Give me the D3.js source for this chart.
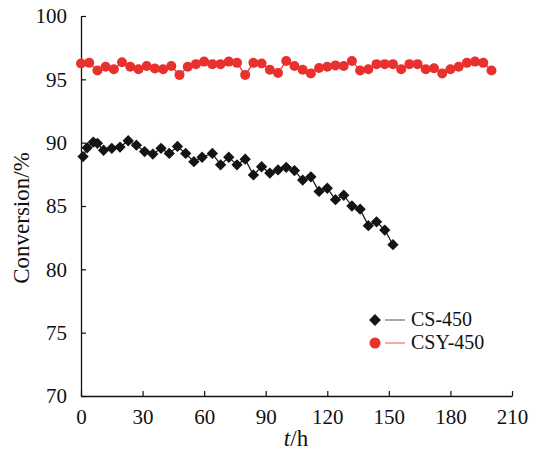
<!DOCTYPE html>
<html>
<head>
<meta charset="utf-8">
<script src="https://cdn.jsdelivr.net/npm/d3@7"></script>
<style>
  body { margin: 0; background: #fff; }
  svg text { font-family: "Times New Roman", "Liberation Serif", serif; fill: #111; }
</style>
</head>
<body>
<div id="chart"></div>
<script>
// CS-450 (black diamonds)
const csTime = [1, 3, 6, 8, 11, 15, 19, 23, 27, 31, 35, 39, 43, 47, 51, 55, 59, 64, 68, 72,
  76, 80, 84, 88, 92, 96, 100, 104, 108, 112, 116, 120, 124, 128, 132, 136, 140, 144, 148, 152];
const csConv = [88.9, 89.6, 90.05, 89.95, 89.4, 89.55, 89.65, 90.15, 89.8, 89.3, 89.1, 89.55, 89.15, 89.7, 89.15, 88.5, 88.85, 89.15, 88.25, 88.85,
  88.25, 88.7, 87.45, 88.1, 87.6, 87.85, 88.05, 87.8, 87.05, 87.3, 86.15, 86.4, 85.5, 85.85, 85.0, 84.75, 83.45, 83.75, 83.1, 81.95];

// CSY-450 (red circles)
const csyTime = [0, 4, 8, 12, 16, 20, 24, 28, 32, 36, 40, 44, 48, 52, 56, 60, 64, 68, 72, 76,
  80, 84, 88, 92, 96, 100, 104, 108, 112, 116, 120, 124, 128, 132, 136, 140, 144, 148, 152, 156,
  160, 164, 168, 172, 176, 180, 184, 188, 192, 196, 200];
const csyConv = [96.25, 96.3, 95.7, 96.0, 95.8, 96.35, 96.0, 95.8, 96.05, 95.85, 95.8, 96.05, 95.35, 96.0, 96.2, 96.4, 96.2, 96.2, 96.4, 96.3,
  95.35, 96.3, 96.25, 95.75, 95.5, 96.45, 96.05, 95.75, 95.47, 95.9, 96.0, 96.1, 96.05, 96.45, 95.7, 95.8, 96.2, 96.2, 96.2, 95.8,
  96.2, 96.2, 95.8, 95.87, 95.47, 95.8, 96.0, 96.3, 96.4, 96.3, 95.7];

const xTicks = [0, 30, 60, 90, 120, 150, 180, 210];
const yTicks = [70, 75, 80, 85, 90, 95, 100];
const seriesNames = ["CS-450", "CSY-450"];

const width = 533, height = 450;
const black = "#141414", red = "#e8312f";

const svg = d3.select("#chart").append("svg")
  .attr("width", width)
  .attr("height", height);

const x = d3.scaleLinear().domain([0, 210]).range([81, 512]);
const y = d3.scaleLinear().domain([70, 100]).range([396, 16]);

// axes - ticks pointing inward
const xAxis = svg.append("g")
  .attr("transform", "translate(0,396)")
  .call(d3.axisBottom(x).tickValues(xTicks).tickSizeInner(-5).tickSizeOuter(0).tickPadding(13));
const yAxis = svg.append("g")
  .attr("transform", "translate(81,0)")
  .call(d3.axisLeft(y).tickValues(yTicks).tickSizeInner(-5).tickSizeOuter(0).tickPadding(14));

[xAxis, yAxis].forEach(g => {
  g.select(".domain").attr("stroke", "#111").attr("stroke-width", 1.3);
  g.selectAll(".tick line").attr("stroke", "#111").attr("stroke-width", 1.2);
  g.selectAll(".tick text").attr("font-size", 21).attr("fill", "#111")
    .style("font-family", '"Times New Roman", "Liberation Serif", serif');
});

// axis titles
const xt = svg.append("text")
  .attr("x", 296).attr("y", 446)
  .attr("text-anchor", "middle")
  .attr("font-size", 23);
xt.append("tspan").attr("font-style", "italic").text("t");
xt.append("tspan").text("/h");

svg.append("text")
  .attr("transform", "translate(29,218) rotate(-90)")
  .attr("text-anchor", "middle")
  .attr("font-size", 23)
  .text("Conversion/%");

const diamond = d3.symbol().type(d3.symbolSquare).size(64);

function drawSeries(ts, vs, color, marker) {
  const pts = ts.map((t, i) => [t, vs[i]]);
  svg.append("path")
    .datum(pts)
    .attr("fill", "none")
    .attr("stroke", color)
    .attr("stroke-width", 1.2)
    .attr("d", d3.line().x(d => x(d[0])).y(d => y(d[1])));
  if (marker === "diamond") {
    svg.append("g").selectAll("path")
      .data(pts).enter().append("path")
      .attr("d", diamond)
      .attr("transform", d => "translate(" + x(d[0]) + "," + y(d[1]) + ") rotate(45)")
      .attr("fill", color);
  } else {
    svg.append("g").selectAll("circle")
      .data(pts).enter().append("circle")
      .attr("cx", d => x(d[0]))
      .attr("cy", d => y(d[1]))
      .attr("r", 5)
      .attr("fill", color);
  }
}

drawSeries(csyTime, csyConv, red, "circle");
drawSeries(csTime, csConv, black, "diamond");

// legend
const legend = svg.append("g");
const legRows = [
  { name: seriesNames[0], color: black, line: "#777", marker: "diamond", y: 320 },
  { name: seriesNames[1], color: red, line: "#f07a78", marker: "circle", y: 343 }
];
legRows.forEach(r => {
  legend.append("line")
    .attr("x1", 385).attr("x2", 405)
    .attr("y1", r.y).attr("y2", r.y)
    .attr("stroke", r.line).attr("stroke-width", 1.3);
  if (r.marker === "diamond") {
    legend.append("path")
      .attr("d", d3.symbol().type(d3.symbolSquare).size(70))
      .attr("transform", "translate(375," + r.y + ") rotate(45)")
      .attr("fill", r.color);
  } else {
    legend.append("circle")
      .attr("cx", 375).attr("cy", r.y).attr("r", 5.5)
      .attr("fill", r.color);
  }
  legend.append("text")
    .attr("x", 411).attr("y", r.y + 6)
    .attr("font-size", 20)
    .text(r.name);
});
</script>
</body>
</html>
